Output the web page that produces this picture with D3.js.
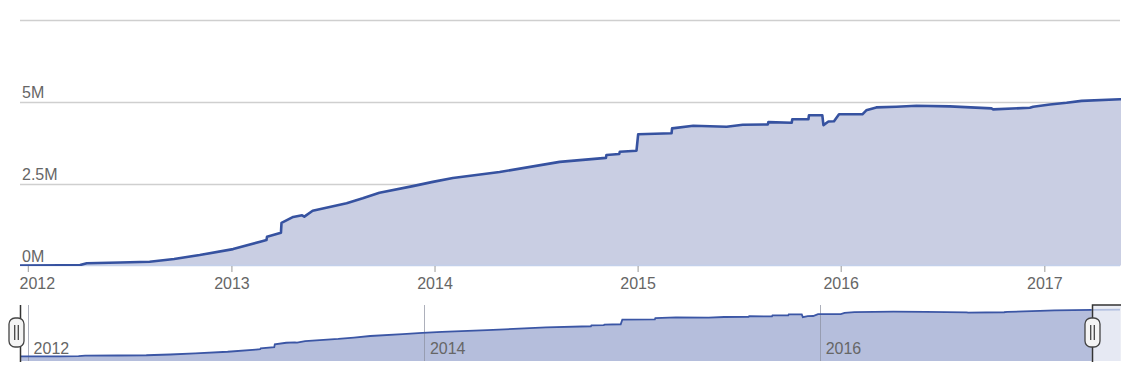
<!DOCTYPE html>
<html>
<head>
<meta charset="utf-8">
<script src="https://cdn.jsdelivr.net/npm/d3@7"></script>
<style>
  html, body { margin: 0; padding: 0; background: #fff; }
  svg { display: block; font-family: "Liberation Sans", Arial, sans-serif; }
</style>
</head>
<body>
<svg id="chart" width="1140" height="390"></svg>
<script>
// ---- data (values in millions) ----
const dates = [
  "2011-12-18","2012-03-01","2012-04-04","2012-04-16","2012-06-15","2012-08-07","2012-09-20","2012-11-05",
  "2013-01-04","2013-02-25","2013-03-05","2013-03-06","2013-03-31","2013-04-01","2013-04-22","2013-05-08","2013-05-12",
  "2013-05-27","2013-07-27","2013-08-25","2013-09-24","2013-11-23","2013-12-29","2014-02-03","2014-04-28",
  "2014-08-14","2014-11-05","2014-11-06","2014-11-29","2014-11-30","2014-12-30","2015-01-02","2015-03-03","2015-03-04",
  "2015-04-11","2015-06-10","2015-07-09","2015-08-23","2015-08-24","2015-10-05","2015-10-06","2015-11-04",
  "2015-11-05","2015-11-29","2015-12-01","2015-12-10","2015-12-20","2015-12-29","2016-02-09","2016-02-16",
  "2016-03-05","2016-04-10","2016-05-16","2016-07-15","2016-09-28","2016-10-01","2016-12-06","2016-12-12",
  "2017-01-11","2017-02-10","2017-03-09","2017-05-17","2017-07-08"
];
const values = [
  0.00,0.005,0.015,0.067,0.09,0.116,0.20,0.32,
  0.50,0.74,0.78,0.88,1.00,1.30,1.48,1.53,1.49,
  1.67,1.90,2.05,2.22,2.42,2.55,2.67,2.85,
  3.16,3.28,3.37,3.40,3.47,3.50,4.00,4.03,4.18,
  4.26,4.23,4.29,4.30,4.37,4.35,4.46,4.46,
  4.58,4.58,4.28,4.39,4.40,4.61,4.61,4.73,
  4.82,4.84,4.87,4.85,4.79,4.76,4.81,4.84,
  4.91,4.96,5.02,5.07,5.09
];
const yTicks = [0, 2.5, 5, 7.5];
const yTickLabels = ["0M", "2.5M", "5M", ""];
const xTickYears = [2012, 2013, 2014, 2015, 2016, 2017];
const navTickYears = [2012, 2014, 2016];
const viewStart = "2011-12-18", viewEnd = "2017-05-17";
const navStart = "2011-12-18", navEnd = "2017-07-08";

// ---- setup ----
const parse = d3.utcParse("%Y-%m-%d");
const data = dates.map((d, i) => ({ date: parse(d), v: values[i] }));
const svg = d3.select("#chart");

const left = 20, right = 1120;
const x = d3.scaleUtc().domain([parse(viewStart), parse(viewEnd)]).range([left, right]);
const y = d3.scaleLinear().domain([0, 7.5]).range([265.5, 19.5]);

// gridlines
svg.append("g").selectAll("line").data(yTicks.filter(t => t > 0)).join("line")
  .attr("x1", left).attr("x2", right)
  .attr("y1", d => Math.round(y(d)) + 0.5).attr("y2", d => Math.round(y(d)) + 0.5)
  .attr("stroke", "#cfcfcf").attr("stroke-width", 1.5);

// clip
svg.append("clipPath").attr("id", "mainClip").append("rect")
  .attr("x", left).attr("y", 0).attr("width", right - left + 1).attr("height", 266);

const area = d3.area().x(d => x(d.date)).y0(y(0)).y1(d => y(d.v));
const line = d3.line().x(d => x(d.date)).y(d => y(d.v));

svg.append("path").datum(data).attr("clip-path", "url(#mainClip)")
  .attr("d", area).attr("fill", "#c9cee3");

// axis baseline
svg.append("line").attr("x1", left).attr("x2", right).attr("y1", 265.5).attr("y2", 265.5)
  .attr("stroke", "#c3d0ea").attr("stroke-width", 1.5);

svg.append("path").datum(data).attr("clip-path", "url(#mainClip)")
  .attr("d", line).attr("fill", "none").attr("stroke", "#3652a0")
  .attr("stroke-width", 2.6).attr("stroke-linejoin", "round");

// y labels
svg.append("g").selectAll("text").data(yTicks).join("text")
  .attr("x", 22).attr("y", d => y(d) - 3.5)
  .attr("fill", "#666").attr("font-size", 16)
  .text((d, i) => yTickLabels[i]);

// x axis
const xAxis = d3.axisBottom(x)
  .tickValues(xTickYears.map(yr => new Date(Date.UTC(yr, 0, 1))))
  .tickFormat(d3.utcFormat("%Y")).tickSize(6).tickSizeOuter(0).tickPadding(6);
const gx = svg.append("g").attr("transform", "translate(0,266)").call(xAxis);
gx.select(".domain").remove();
gx.selectAll(".tick line").attr("stroke", "#999");
gx.selectAll(".tick text").attr("fill", "#666").attr("font-size", 16)
  .attr("font-family", "'Liberation Sans', Arial, sans-serif");
// keep first label inside the plot (as in the reference)
gx.selectAll(".tick text").filter((d, i) => i === 0).attr("dx", 9);

// ---- navigator ----
const navTop = 305, navBottom = 361;
const nx = d3.scaleUtc().domain([parse(navStart), parse(navEnd)]).range([left, right]);
const ny = d3.scaleLinear().domain([-0.509, 5.6]).range([navBottom, navTop]);
const selMin = nx(parse(viewStart)), selMax = nx(parse(viewEnd));

svg.append("clipPath").attr("id", "navIn").append("rect")
  .attr("x", selMin).attr("y", navTop - 5).attr("width", selMax - selMin).attr("height", navBottom - navTop + 5);
svg.append("clipPath").attr("id", "navOut").append("rect")
  .attr("x", selMax).attr("y", navTop - 5).attr("width", right + 1 - selMax).attr("height", navBottom - navTop + 5);

const navArea = d3.area().x(d => nx(d.date)).y0(navBottom).y1(d => ny(d.v));
const navLine = d3.line().x(d => nx(d.date)).y(d => ny(d.v));

svg.append("rect").attr("clip-path", "url(#navOut)")
  .attr("x", selMax).attr("y", navTop).attr("width", right + 1 - selMax).attr("height", navBottom - navTop)
  .attr("fill", "#eceef5");
svg.append("path").datum(data).attr("clip-path", "url(#navOut)").attr("d", navArea).attr("fill", "#e6e9f3");
svg.append("path").datum(data).attr("clip-path", "url(#navIn)").attr("d", navArea).attr("fill", "#b5bedc");

// navigator grid lines + labels
const navTicks = navTickYears.map(yr => new Date(Date.UTC(yr, 0, 1)));
svg.append("g").selectAll("line").data(navTicks).join("line")
  .attr("x1", d => Math.round(nx(d)) + 0.5).attr("x2", d => Math.round(nx(d)) + 0.5)
  .attr("y1", navTop).attr("y2", navBottom)
  .attr("stroke", "#8a8f9e").attr("stroke-opacity", 0.7).attr("stroke-width", 1);

svg.append("path").datum(data).attr("clip-path", "url(#navIn)").attr("d", navLine)
  .attr("fill", "none").attr("stroke", "#3b56a5").attr("stroke-width", 1.8);
svg.append("path").datum(data).attr("clip-path", "url(#navOut)").attr("d", navLine)
  .attr("fill", "none").attr("stroke", "#b3c0e0").attr("stroke-width", 1.8);

svg.append("g").selectAll("text").data(navTicks).join("text")
  .attr("x", d => nx(d) + 6).attr("y", 354)
  .attr("fill", "#666").attr("font-size", 16)
  .text(d => d3.utcFormat("%Y")(d));

// outline
const sMin = Math.round(selMin) + 0.5, sMax = Math.round(selMax) + 0.5;
svg.append("path")
  .attr("d", `M${sMin},${navTop} L${sMin},${navBottom + 1} M${sMax},${navBottom + 1} L${sMax},${navTop} L${right + 1},${navTop}`)
  .attr("fill", "none").attr("stroke", "#333").attr("stroke-width", 1.5);

// handles
function handle(cx) {
  const g = svg.append("g").attr("transform", `translate(${cx},0)`);
  g.append("rect").attr("x", -7.5).attr("y", 318).attr("width", 15).attr("height", 29)
    .attr("rx", 6).attr("fill", "#f4f4f4").attr("stroke", "#444").attr("stroke-width", 1.3);
  g.append("line").attr("x1", -1.8).attr("x2", -1.8).attr("y1", 325).attr("y2", 340).attr("stroke", "#444").attr("stroke-width", 1.3);
  g.append("line").attr("x1", 1.8).attr("x2", 1.8).attr("y1", 325).attr("y2", 340).attr("stroke", "#444").attr("stroke-width", 1.3);
}
handle(16.5);
handle(sMax);
</script>
</body>
</html>
